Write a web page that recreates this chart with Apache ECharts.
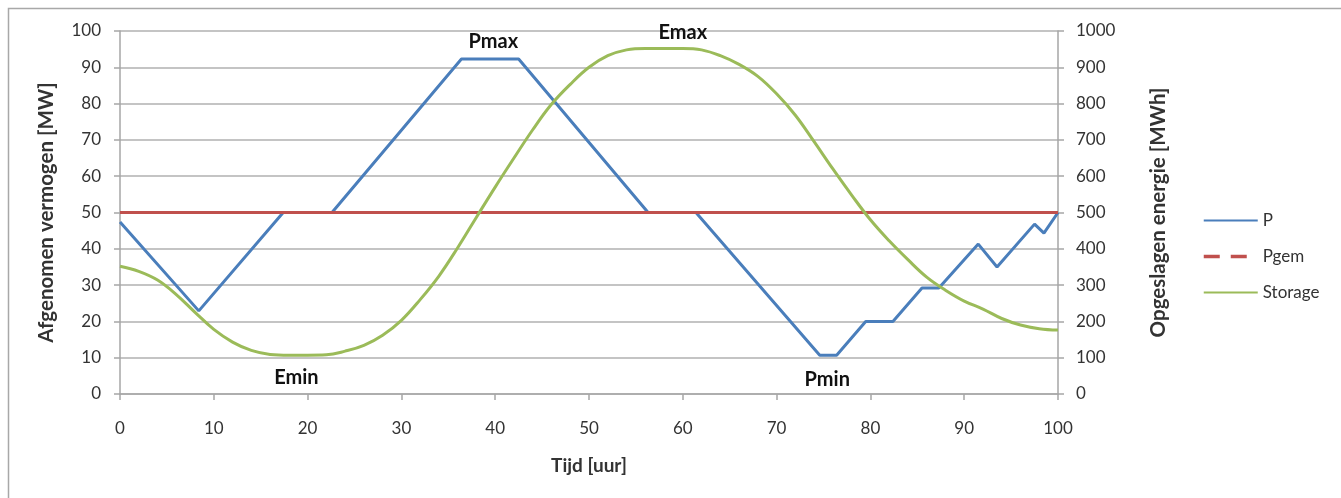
<!DOCTYPE html>
<html>
<head>
<meta charset="utf-8">
<script src="https://cdn.jsdelivr.net/npm/echarts@6/dist/echarts.min.js"></script>
<style>
html,body{margin:0;padding:0;background:#fff;}
#chart{width:1341px;height:498px;}
</style>
</head>
<body>
<div id="chart"></div>
<script>
// ---- data ----
var seriesNames = ['P', 'Pgem', 'Storage'];
var xTicks = [0, 10, 20, 30, 40, 50, 60, 70, 80, 90, 100];
var leftTicks = [0, 10, 20, 30, 40, 50, 60, 70, 80, 90, 100];
var rightTicks = [0, 100, 200, 300, 400, 500, 600, 700, 800, 900, 1000];

// P [MW] : hour, value
var pHours  = [0, 8.4, 17.4, 22.6, 36.4, 42.5, 56.3, 61.4, 74.6, 76.4, 79.5, 82.4, 85.5, 87.3, 91.5, 93.5, 97.5, 98.5, 100];
var pValues = [47.4, 22.9, 50, 50, 92.3, 92.3, 50, 50, 10.7, 10.7, 20, 20, 29.2, 29.2, 41.3, 35, 46.8, 44.3, 50];

// Pgem [MW]
var pgemHours  = [0, 100];
var pgemValues = [50, 50];

// Storage [MWh], read every 2 hours
var storageHours  = [0, 2, 4, 6, 8, 10, 12, 14, 16, 18, 20, 22, 24, 26, 28, 30, 32, 34, 36, 38, 40, 42, 44, 46, 48, 50, 52, 54, 56, 58, 60, 62, 64, 66, 68, 70, 72, 74, 76, 78, 80, 82, 84, 86, 88, 90, 92, 94, 96, 98, 100];
var storageValues = [352, 338, 314, 274, 225, 178, 143, 120, 109, 107, 107, 108, 118, 134, 162, 203, 260, 325, 403, 487, 570, 650, 728, 798, 853, 900, 932, 948, 952, 952, 952, 948, 932, 908, 875, 827, 768, 695, 620, 548, 480, 422, 370, 322, 286, 256, 234, 208, 190, 180, 176];

// annotations (text, hour, MW)
var noteTexts = ['Pmax', 'Emax', 'Emin', 'Pmin'];
var noteHours = [39.8, 60.0, 18.8, 75.4];
var noteMW    = [97, 99.7, 4.4, 3.9];

// ---- build ----
function pairs(xs, ys) { return xs.map(function (x, i) { return [x, ys[i]]; }); }

var FONT = 'Lato, "Open Sans", sans-serif';
var TXT = '#333333';
var GRID = '#c4c4c4';
var AXIS = '#a6a6a6';

var chart = echarts.init(document.getElementById('chart'), null, {renderer: 'canvas'});

var option = {
  animation: false,
  backgroundColor: '#ffffff',
  textStyle: {fontFamily: FONT},
  graphic: [{
    type: 'rect',
    shape: {x: 8.5, y: 8.5, width: 1400, height: 600},
    style: {fill: 'none', stroke: '#a8a8a8', lineWidth: 1.5},
    silent: true, z: -10
  }],
  grid: {left: 120, right: 283, top: 31, bottom: 104, containLabel: false},
  legend: {
    orient: 'vertical',
    left: 1202,
    top: 212,
    padding: 0,
    itemWidth: 54,
    itemHeight: 14,
    itemGap: 19,
    itemStyle: {opacity: 0},
    textStyle: {fontFamily: FONT, fontSize: 17, color: TXT},
    data: [
      {name: seriesNames[0]},
      {name: seriesNames[1], lineStyle: {type: [16, 11], width: 3.5}},
      {name: seriesNames[2]}
    ]
  },
  xAxis: {
    type: 'value',
    min: xTicks[0], max: xTicks[xTicks.length - 1], interval: 10,
    name: 'Tijd [uur]',
    nameLocation: 'middle',
    nameGap: 62,
    nameTextStyle: {fontFamily: FONT, fontSize: 19, fontWeight: 'bold', color: TXT},
    axisLine: {show: true, lineStyle: {color: AXIS, width: 1.5}},
    axisTick: {show: true, length: 6, lineStyle: {color: AXIS, width: 1.5}},
    axisLabel: {margin: 26, fontSize: 17, color: TXT, fontFamily: FONT},
    splitLine: {show: false}
  },
  yAxis: [{
    type: 'value',
    min: leftTicks[0], max: leftTicks[leftTicks.length - 1], interval: 10,
    name: 'Afgenomen vermogen [MW]',
    nameLocation: 'middle',
    nameGap: 63,
    nameTextStyle: {fontFamily: FONT, fontSize: 20.5, fontWeight: 'bold', color: TXT},
    axisLine: {show: true, lineStyle: {color: AXIS, width: 1.5}},
    axisTick: {show: true, length: 6, lineStyle: {color: AXIS, width: 1.5}},
    axisLabel: {margin: 19, fontSize: 17, color: TXT, fontFamily: FONT},
    splitLine: {show: true, lineStyle: {color: GRID, width: 2}}
  }, {
    type: 'value',
    min: rightTicks[0], max: rightTicks[rightTicks.length - 1], interval: 100,
    name: 'Opgeslagen energie [MWh]',
    nameLocation: 'middle',
    nameGap: 90,
    nameRotate: 90,
    nameTextStyle: {fontFamily: FONT, fontSize: 20.5, fontWeight: 'bold', color: TXT},
    axisLine: {show: true, lineStyle: {color: AXIS, width: 1.5}},
    axisTick: {show: true, length: 6, lineStyle: {color: AXIS, width: 1.5}},
    axisLabel: {margin: 18, fontSize: 17, color: TXT, fontFamily: FONT, formatter: function (v) { return String(v); }},
    splitLine: {show: false}
  }],
  series: [{
    name: seriesNames[0],
    type: 'line',
    data: pairs(pHours, pValues),
    symbol: 'none',
    color: '#4a7ebb',
    lineStyle: {width: 3, color: '#4a7ebb'},
    z: 2
  }, {
    name: seriesNames[1],
    type: 'line',
    data: pairs(pgemHours, pgemValues),
    symbol: 'none',
    color: '#c0504d',
    lineStyle: {width: 3, color: '#c0504d'},
    z: 3,
    markPoint: {
      symbol: 'circle',
      symbolSize: 1,
      itemStyle: {color: 'rgba(0,0,0,0)'},
      label: {
        show: true, position: 'inside', formatter: '{b}',
        color: '#111', fontFamily: FONT, fontSize: 20, fontWeight: 'bold'
      },
      data: noteTexts.map(function (t, i) { return {name: t, coord: [noteHours[i], noteMW[i]]}; })
    }
  }, {
    name: seriesNames[2],
    type: 'line',
    yAxisIndex: 1,
    data: pairs(storageHours, storageValues),
    symbol: 'none',
    smooth: 0.4,
    color: '#9bbb59',
    lineStyle: {width: 3, color: '#9bbb59'},
    z: 4
  }]
};
chart.setOption(option);
</script>
</body>
</html>
